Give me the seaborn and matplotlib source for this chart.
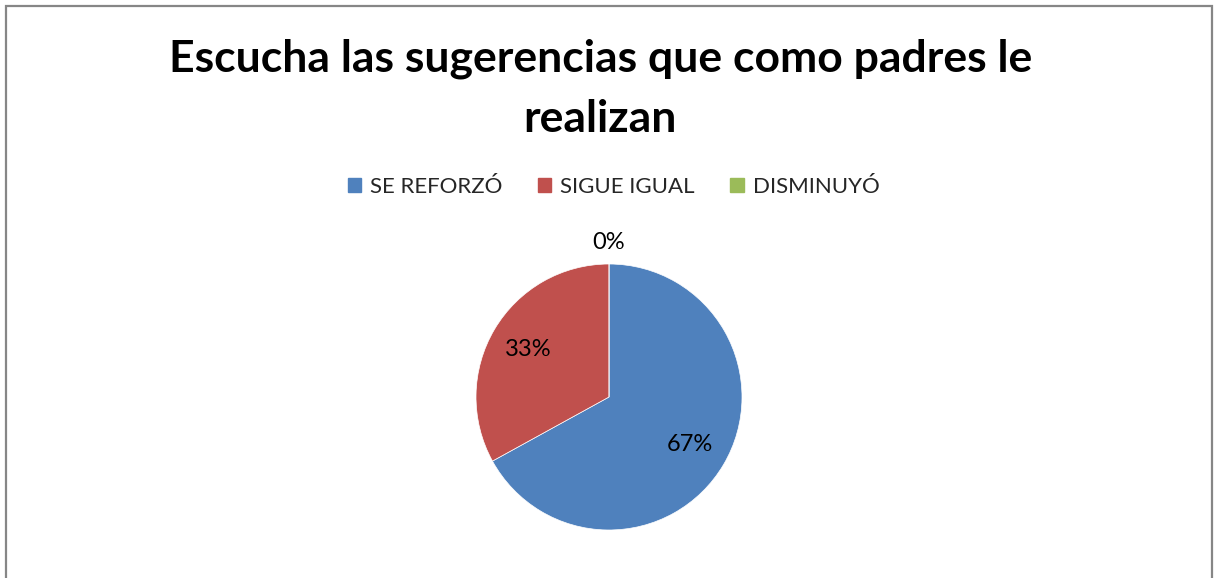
import numpy as np
import seaborn as sns
import matplotlib.pyplot as plt
from matplotlib.patches import Rectangle

# data
categories = ["SE REFORZÓ", "SIGUE IGUAL", "DISMINUYÓ"]
values = [67, 33, 0]
colors = ["#4F81BD", "#C0504D", "#9BBB59"]
title = "Escucha las sugerencias que como padres le\nrealizan"

sns.set_style("white")
plt.rcParams['font.family'] = ['Lato', 'DejaVu Sans']

W, H = 1220, 578
fig = plt.figure(figsize=(W / 100, H / 100), dpi=100)

# outer chart frame
fig.patches.append(Rectangle((6 / W, -0.05), (1212 - 6) / W, 1.05 - 6 / H,
                             transform=fig.transFigure, fill=False,
                             edgecolor="#868686", linewidth=1.6))

cx, cy, r = 609, 397, 133
ax = fig.add_axes([(cx - r) / W, (H - cy - r) / H, 2 * r / W, 2 * r / H])

wedges, texts, autotexts = ax.pie(values, colors=colors, startangle=90,
                                  counterclock=False, autopct='%1.0f%%',
                                  pctdistance=0.705,
                                  wedgeprops={'edgecolor': 'white', 'linewidth': 0.5},
                                  textprops={'fontsize': 17, 'color': 'black'})
ax.set_xlim(-1, 1)
ax.set_ylim(-1, 1)
ax.set_aspect('equal')
ax.axis('off')

# zero slices get their label outside the pie
for w, t, v in zip(wedges, autotexts, values):
    if v == 0:
        ang = np.deg2rad((w.theta1 + w.theta2) / 2)
        t.set_position((1.16 * np.cos(ang), 1.16 * np.sin(ang)))

fig.text(0.492, 1 - 89 / H, title, ha='center', va='center', color='black',
         fontsize=32, fontweight='bold', linespacing=1.6)

handles = [plt.Rectangle((0, 0), 1, 1, color=c) for c in colors]
fig.legend(handles, categories, loc='center', ncol=3,
           bbox_to_anchor=(0.503, 1 - 187 / H), frameon=False,
           fontsize=16, handlelength=0.6, handleheight=0.6,
           handletextpad=0.4, columnspacing=1.6)

fig.savefig('out.png', dpi=100)
